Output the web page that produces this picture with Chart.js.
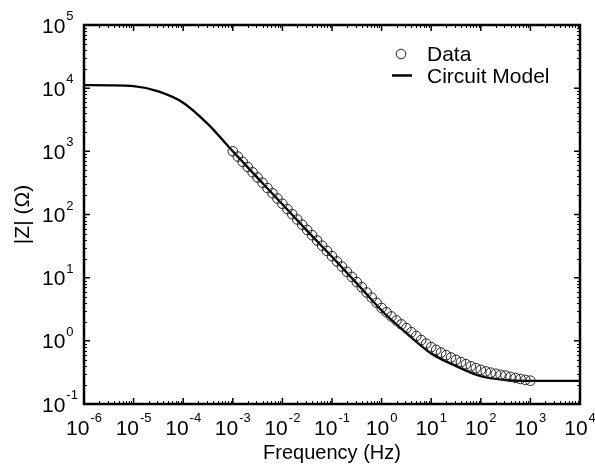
<!DOCTYPE html>
<html>
<head>
<meta charset="utf-8">
<script src="https://cdn.jsdelivr.net/npm/chart.js@4.4.1/dist/chart.umd.min.js"></script>
<style>
  html, body { margin: 0; padding: 0; background: #fff; }
</style>
</head>
<body>
<canvas id="chart" width="595" height="469"></canvas>
<script>
// measured impedance (circles)
const dataFreq = [
  0.001, 0.00126, 0.00158, 0.002, 0.00251, 0.00316, 0.00398, 0.00501, 0.00631, 0.00794,
  0.01, 0.0126, 0.0158, 0.02, 0.0251, 0.0316, 0.0398, 0.0501, 0.0631, 0.0794,
  0.1, 0.126, 0.158, 0.2, 0.251, 0.316, 0.398, 0.501, 0.631, 0.794,
  1, 1.26, 1.58, 2, 2.51, 3.16, 3.98, 5.01, 6.31, 7.94,
  10, 12.6, 15.8, 20, 25.1, 31.6, 39.8, 50.1, 63.1, 79.4,
  100, 126, 158, 200, 251, 316, 398, 501, 631, 794,
  1000
];
const dataZ = [
  1000, 826, 682, 564, 466, 385, 318, 262, 217, 179,
  148, 122, 101, 83.4, 68.9, 56.9, 47.0, 38.8, 32.1, 26.5,
  21.9, 18.1, 15.0, 12.4, 10.3, 8.51, 7.05, 5.83, 4.83, 4.00,
  3.31, 2.83, 2.43, 2.10, 1.82, 1.59, 1.37, 1.19, 1.03, 0.904,
  0.794, 0.718, 0.652, 0.594, 0.545, 0.501, 0.461, 0.427, 0.396, 0.370,
  0.347, 0.328, 0.313, 0.301, 0.290, 0.282, 0.269, 0.258, 0.249, 0.241,
  0.234
];

// circuit model curve
const modelFreq = [1e-6, 3.16e-6, 1e-5, 3.16e-5, 1e-4, 3.16e-4, 1e-3, 3.16e-3, 1e-2, 3.16e-2,
  0.1, 0.316, 1, 3.16, 10, 31.6, 100, 316, 1000, 3160, 10000];
const modelZ = [11200, 11100, 10800, 8910, 5890, 2690, 1000, 380, 145, 55.0,
  21.4, 8.13, 3.02, 1.32, 0.631, 0.398, 0.275, 0.240, 0.232, 0.232, 0.232];

const xTicks = [1e-6, 1e-5, 1e-4, 1e-3, 1e-2, 1e-1, 1, 10, 100, 1000, 10000];
const xTickExps = ['-6', '-5', '-4', '-3', '-2', '-1', '0', '1', '2', '3', '4'];
const yTicks = [0.1, 1, 10, 100, 1000, 10000, 100000];
const yTickExps = ['-1', '0', '1', '2', '3', '4', '5'];

const FONT = '"Liberation Sans", Arial, sans-serif';

const framePlugin = {
  id: 'framePlugin',
  afterDraw(chart) {
    const ctx = chart.ctx;
    const a = chart.chartArea;
    const x = chart.scales.x, y = chart.scales.y;
    ctx.save();
    ctx.strokeStyle = '#000';
    ctx.fillStyle = '#000';

    // inward ticks on all four sides
    const tick = (px, len, horiz) => {
      ctx.beginPath();
      if (horiz) {
        ctx.moveTo(px, a.bottom); ctx.lineTo(px, a.bottom - len);
        ctx.moveTo(px, a.top); ctx.lineTo(px, a.top + len);
      } else {
        ctx.moveTo(a.left, px); ctx.lineTo(a.left + len, px);
        ctx.moveTo(a.right, px); ctx.lineTo(a.right - len, px);
      }
      ctx.stroke();
    };
    ctx.lineWidth = 1;
    for (let i = 0; i < xTicks.length - 1; i++) {
      for (let m = 2; m <= 9; m++) tick(Math.round(x.getPixelForValue(xTicks[i] * m)) + 0.5, 3, true);
    }
    for (let i = 0; i < yTicks.length - 1; i++) {
      for (let m = 2; m <= 9; m++) tick(Math.round(y.getPixelForValue(yTicks[i] * m)) + 0.5, 3, false);
    }
    ctx.lineWidth = 1.5;
    xTicks.forEach(v => tick(x.getPixelForValue(v), 6, true));
    yTicks.forEach(v => tick(y.getPixelForValue(v), 6, false));

    // frame
    ctx.lineWidth = 2.5;
    ctx.strokeRect(a.left, a.top, a.right - a.left, a.bottom - a.top);

    // tick labels: 10 with superscript exponent
    const big = '21px ' + FONT, small = '13px ' + FONT;
    ctx.textBaseline = 'alphabetic';
    ctx.textAlign = 'left';
    xTicks.forEach((v, i) => {
      const px = x.getPixelForValue(v);
      ctx.font = big;
      const w1 = ctx.measureText('10').width;
      ctx.font = small;
      const w2 = ctx.measureText(xTickExps[i]).width;
      const x0 = px - (w1 + 1 + w2) / 2;
      ctx.font = big;
      ctx.fillText('10', x0, a.bottom + 31);
      ctx.font = small;
      ctx.fillText(xTickExps[i], x0 + w1 + 1, a.bottom + 18);
    });
    yTicks.forEach((v, i) => {
      const py = y.getPixelForValue(v);
      ctx.font = big;
      const w1 = ctx.measureText('10').width;
      ctx.fillText('10', 42, py + 7.5);
      ctx.font = small;
      ctx.fillText(yTickExps[i], 42 + w1 + 1, py - 5);
    });

    // axis titles
    ctx.font = '20px ' + FONT;
    ctx.textAlign = 'center';
    ctx.fillText('Frequency (Hz)', (a.left + a.right) / 2, 459);
    ctx.save();
    ctx.font = '21px ' + FONT;
    ctx.translate(29, (a.top + a.bottom) / 2);
    ctx.rotate(-Math.PI / 2);
    ctx.fillText('|Z| (\u03A9)', 0, 0);
    ctx.restore();

    // legend
    ctx.textAlign = 'left';
    ctx.font = '21px ' + FONT;
    ctx.lineWidth = 1;
    ctx.strokeStyle = '#222';
    ctx.beginPath();
    ctx.arc(401, 54, 4.8, 0, Math.PI * 2);
    ctx.stroke();
    ctx.fillText(chart.data.datasets[0].label, 427, 61);
    ctx.strokeStyle = '#000';
    ctx.lineWidth = 2.5;
    ctx.beginPath();
    ctx.moveTo(392, 75.5); ctx.lineTo(412, 75.5);
    ctx.stroke();
    ctx.fillText(chart.data.datasets[1].label, 427, 83);
    ctx.restore();
  }
};

new Chart(document.getElementById('chart'), {
  type: 'scatter',
  data: {
    datasets: [
      {
        label: 'Data',
        data: dataFreq.map((f, i) => ({ x: f, y: dataZ[i] })),
        showLine: false,
        pointStyle: 'circle',
        pointRadius: 4.8,
        pointBorderWidth: 1,
        pointBorderColor: '#222',
        pointBackgroundColor: 'rgba(0,0,0,0)',
        order: 1
      },
      {
        label: 'Circuit Model',
        data: modelFreq.map((f, i) => ({ x: f, y: modelZ[i] })),
        showLine: true,
        borderColor: '#000',
        borderWidth: 2.3,
        pointRadius: 0,
        cubicInterpolationMode: 'monotone',
        order: 2
      }
    ]
  },
  options: {
    responsive: false,
    animation: false,
    devicePixelRatio: 1,
    layout: { padding: { left: 84, right: 15, top: 25, bottom: 65 } },
    plugins: { legend: { display: false }, tooltip: { enabled: false } },
    scales: {
      x: {
        type: 'logarithmic', min: 1e-6, max: 1e4,
        grid: { display: false, drawTicks: false },
        border: { display: false },
        ticks: { display: false }
      },
      y: {
        type: 'logarithmic', min: 0.1, max: 1e5,
        grid: { display: false, drawTicks: false },
        border: { display: false },
        ticks: { display: false }
      }
    }
  },
  plugins: [framePlugin]
});
</script>
</body>
</html>
